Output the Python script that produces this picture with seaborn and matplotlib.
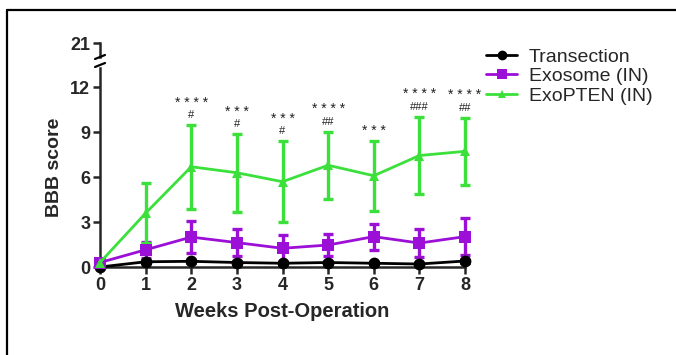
import matplotlib
matplotlib.use("Agg")
import matplotlib.pyplot as plt
import seaborn as sns
import numpy as np
import pandas as pd

weeks = [0, 1, 2, 3, 4, 5, 6, 7, 8]
groups = ["Transection", "Exosome (IN)", "ExoPTEN (IN)"]

transection_mean = [0.0, 0.35, 0.38, 0.3, 0.25, 0.3, 0.25, 0.2, 0.4]
transection_sd = [0.0, 0.1, 0.1, 0.1, 0.1, 0.1, 0.05, 0.1, 0.1]
exosome_mean = [0.3, 1.15, 2.0, 1.63, 1.25, 1.47, 2.03, 1.6, 2.03]
exosome_sd = [0.0, 0.55, 1.05, 0.9, 0.9, 0.75, 0.87, 0.93, 1.23]
exopten_mean = [0.3, 3.6, 6.7, 6.3, 5.7, 6.8, 6.1, 7.45, 7.73]
exopten_sd = [0.0, 2.0, 2.8, 2.6, 2.7, 2.25, 2.35, 2.6, 2.25]

stars = ["", "", "****", "***", "***", "****", "***", "****", "****"]
hashes = ["", "", "#", "#", "#", "##", "", "###", "##"]

colors = ["#000000", "#9B0FD6", "#3BE03B"]
markers = ["o", "s", "^"]
msizes = [8.5, 9, 7]

df = pd.DataFrame({
    "week": weeks * 3,
    "score": transection_mean + exosome_mean + exopten_mean,
    "sd": transection_sd + exosome_sd + exopten_sd,
    "group": [g for g in groups for _ in weeks],
})

sns.set_style("ticks")
plt.rcParams["font.family"] = ["Liberation Sans", "DejaVu Sans"]

fig = plt.figure(figsize=(6.76, 3.55), dpi=100)
W, H = 676, 355

# frame lines of the original figure panel
fig.add_artist(plt.Line2D([7 / W, 7 / W], [0, 1 - 10 / H], color="black", lw=1.6))
fig.add_artist(plt.Line2D([7 / W, 1], [1 - 10 / H, 1 - 10 / H], color="black", lw=1.6))

ax = fig.add_axes([100 / W, 1 - 267 / H, 365 / W, 199 / H])
ax_top = fig.add_axes([100 / W, 1 - 57 / H, 365 / W, 14 / H])

for i, g in enumerate(groups):
    sub = df[df["group"] == g]
    ax.errorbar(sub["week"], sub["score"], yerr=sub["sd"], fmt="none",
                ecolor=colors[i], elinewidth=2.4, capsize=3.8, capthick=2.4,
                clip_on=False, zorder=2 + i)

sns.lineplot(data=df, x="week", y="score", hue="group", style="group",
             palette=colors, markers=markers, dashes=False, ax=ax,
             linewidth=2, markeredgewidth=0, legend=False, zorder=5)
for line, ms in zip(ax.lines[-3:], msizes):
    line.set_markersize(ms)
    line.set_clip_on(False)

ax.set_xlim(0, 8)
ax.set_ylim(0, 13.3)
ax.set_xticks(weeks)
ax.set_yticks([0, 3, 6, 9, 12])
ax.tick_params(width=1.8, length=5, labelsize=13, pad=2)
for lab in ax.get_xticklabels() + ax.get_yticklabels():
    lab.set_fontweight("bold")
for s in ["top", "right"]:
    ax.spines[s].set_visible(False)
for s in ["left", "bottom"]:
    ax.spines[s].set_linewidth(1.8)
ax.set_xlabel("Weeks Post-Operation", fontsize=14.5, fontweight="bold", labelpad=6)
ax.set_ylabel("BBB score", fontsize=14, fontweight="bold", labelpad=5)

ax_top.set_ylim(20, 21)
ax_top.set_xlim(0, 8)
ax_top.set_yticks([21])
ax_top.set_xticks([])
ax_top.tick_params(width=1.8, length=5, labelsize=13, pad=2)
for lab in ax_top.get_yticklabels():
    lab.set_fontweight("bold")
for s in ["top", "right", "bottom"]:
    ax_top.spines[s].set_visible(False)
ax_top.spines["left"].set_linewidth(1.8)
ax_top.patch.set_alpha(0)

# break marks
for yb in [57, 65]:
    fig.add_artist(plt.Line2D([95 / W, 105 / W], [1 - (yb + 2) / H, 1 - (yb - 2) / H],
                              color="black", lw=1.6))

# significance marks
for wk, st, hs, m, sd in zip(weeks, stars, hashes, exopten_mean, exopten_sd):
    top = m + sd
    st_txt = " ".join(st)
    if hs:
        ax.annotate(hs, (wk, top), xytext=(0, 3.5), textcoords="offset points",
                    ha="center", va="bottom", fontsize=8, color="#222222")
        ax.annotate(st_txt, (wk, top), xytext=(0, 11), textcoords="offset points",
                    ha="center", va="bottom", fontsize=10, color="#222222")
    elif st:
        ax.annotate(st_txt, (wk, top), xytext=(0, 2), textcoords="offset points",
                    ha="center", va="bottom", fontsize=10, color="#222222")

handles = [plt.Line2D([], [], color=c, marker=mk, markersize=ms, lw=2, markeredgewidth=0)
           for c, mk, ms in zip(colors, markers, [7, 7.5, 6])]
fig.legend(handles, groups, loc="upper left", bbox_to_anchor=(486 / W, 1 - 48 / H),
           frameon=False, fontsize=14, handlelength=1.6, handletextpad=0.6,
           labelspacing=0.1, borderaxespad=0, borderpad=0)

fig.savefig("out.png", dpi=100)
